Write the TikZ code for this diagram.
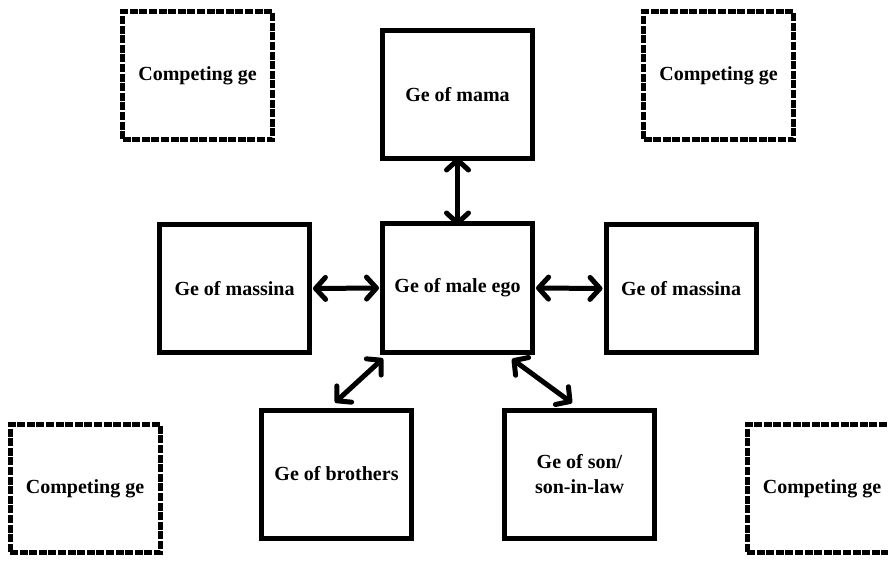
\documentclass[tikz,border=0pt]{standalone}
\usepackage{fontspec}
\setmainfont{Liberation Serif}
\usetikzlibrary{arrows.meta}
\begin{document}
\begin{tikzpicture}[x=1pt,y=-1pt,
  gebox/.style={draw=black,line width=5pt,minimum width=150pt,minimum height=128pt,
    inner sep=0pt,align=center,font=\fontsize{20}{24.5}\selectfont\bfseries,fill=white},
  rivalbox/.style={gebox,dash pattern=on 8pt off 1.6pt},
  barb/.tip={Straight Barb[length=10pt,width=22pt,line join=round,line cap=round]},
  biarrow/.style={line width=5pt,barb-barb}]
  \useasboundingbox (0,0) rectangle (888,561);
  \fill[white] (0,0) rectangle (888,561);

  % kin groups around the ego
  \node[gebox] (mama)  at (457.5,95)   {Ge of mama};
  \node[gebox] (ego)   at (457.5,288)  {Ge of male ego};
  \node[gebox] (massL) at (234.5,288.5){Ge of massina};
  \node[gebox] (massR) at (681,288.5)  {Ge of massina};
  \node[gebox] (bro)   at (336.5,474)  {Ge of brothers};
  \node[gebox] (son)   at (579.5,474)  {Ge of son/\\son-in-law};

  % competing groups in the corners
  \node[rivalbox] (cTL) at (197.5,76)   {Competing ge};
  \node[rivalbox] (cTR) at (718.5,76)   {Competing ge};
  \node[rivalbox] (cBL) at (85,488.5)   {Competing ge};
  \node[rivalbox] (cBR) at (822,488.5)  {Competing ge};

  % two-way links
  \draw[biarrow] ([yshift=4pt]mama.south) -- ([yshift=-4pt]ego.north);
  \draw[biarrow] ([xshift=1pt]massL.east) -- ([xshift=-1pt]ego.west);
  \draw[biarrow] ([xshift=1pt]ego.east) -- ([xshift=-1pt]massR.west);
  \draw[biarrow] ([shift={(3,4)}]ego.south west) -- ([shift={(-1.5,-5)}]bro.north);
  \draw[biarrow] ([shift={(-23,4.5)}]ego.south east) -- ([shift={(-7.5,-4.5)}]son.north);
\end{tikzpicture}
\end{document}
